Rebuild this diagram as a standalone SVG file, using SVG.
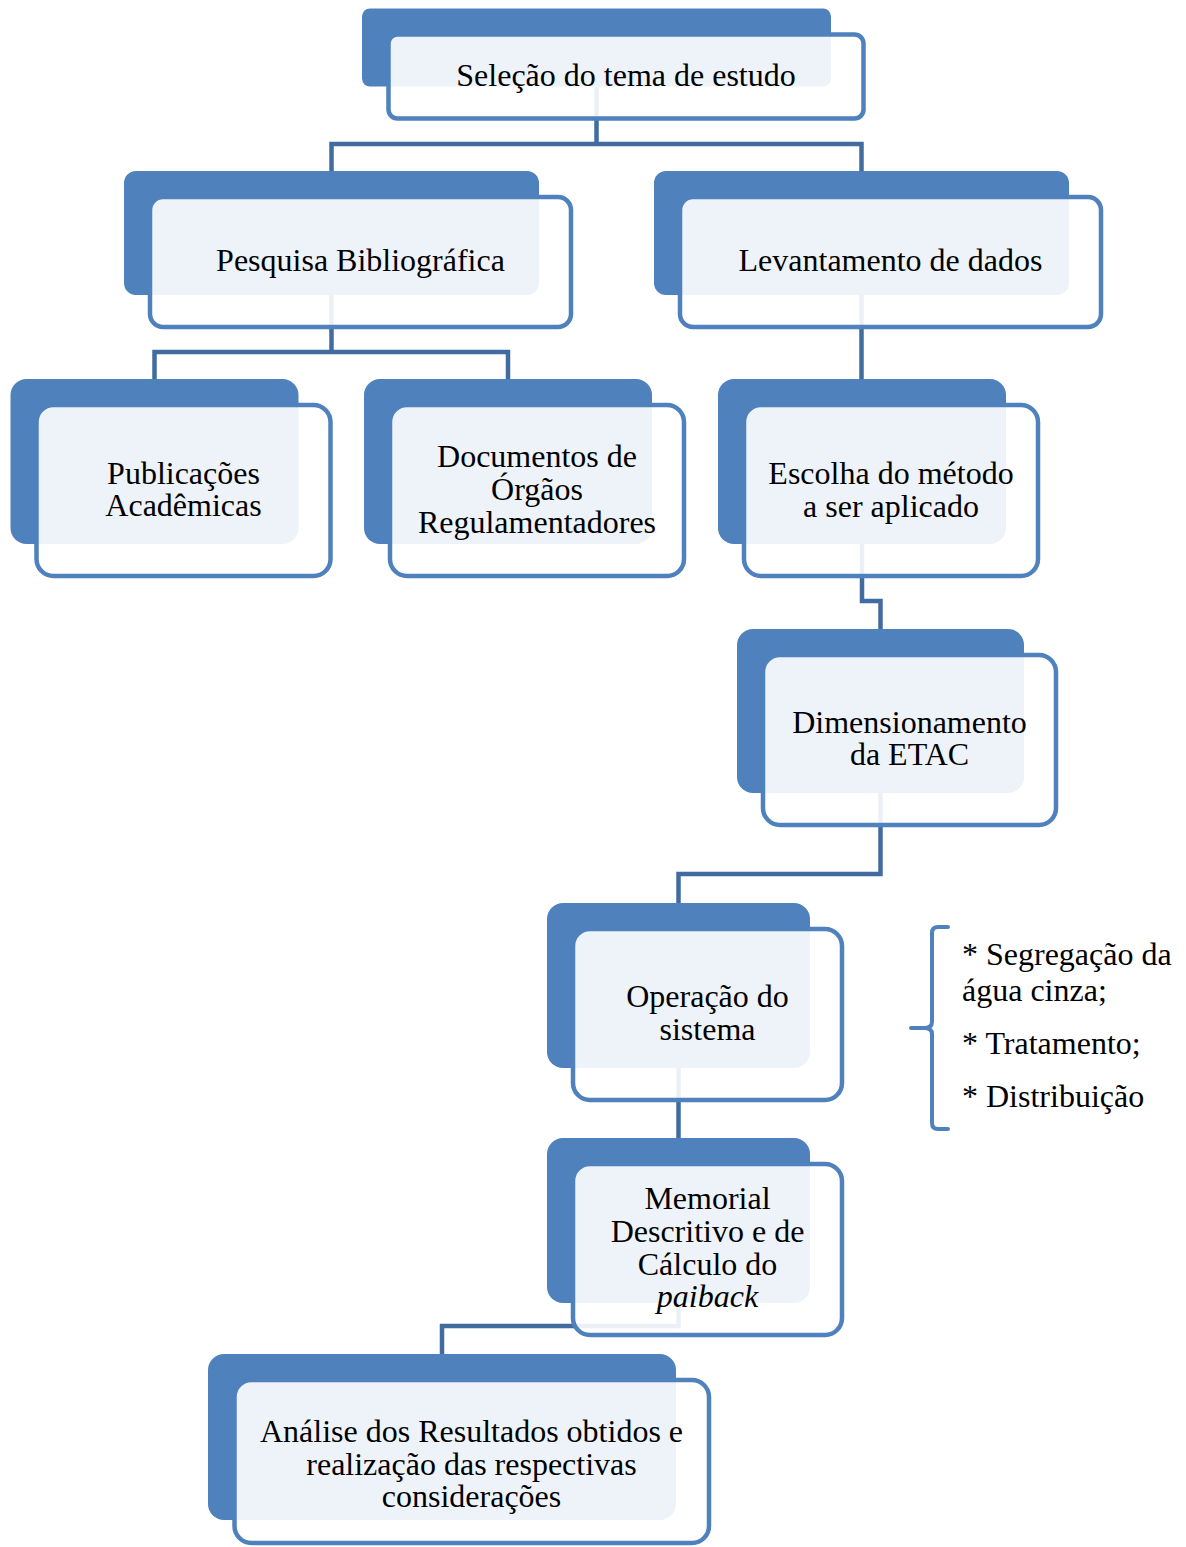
<svg xmlns="http://www.w3.org/2000/svg" width="1186" height="1547" viewBox="0 0 1186 1547">
<style>
.bk{fill:#4F81BD}
.fr{fill:#FFFFFF;fill-opacity:0.9;stroke:#4F81BD;stroke-width:4.5}
.cn{fill:none;stroke:#416C9F;stroke-width:4.5;stroke-linejoin:miter}
.t{font-family:"Liberation Serif","Times New Roman",serif;font-size:32px;fill:#000;text-anchor:middle}
.tl{font-family:"Liberation Serif","Times New Roman",serif;font-size:32px;fill:#000}
.br{fill:none;stroke:#4F81BD;stroke-width:4;stroke-linecap:round}
</style>
<rect width="1186" height="1547" fill="#FFFFFF"/>
<g id="connectors">
<path class="cn" d="M596.5,87 V144 M331.5,171 V144 H861.5 V171"/>
<path class="cn" d="M331.5,295 V352 M154.5,379 V352 H508 V379"/>
<path class="cn" d="M861.5,295 V379"/>
<path class="cn" d="M862,544 V601 H880.5 V629"/>
<path class="cn" d="M880.5,793 V874 H678.5 V903"/>
<path class="cn" d="M678.5,1068 V1138"/>
<path class="cn" d="M678.5,1303 V1326 H442 V1354"/>
</g>
<g id="n1">
<rect class="bk" x="362" y="8.5" width="469" height="78" rx="8"/>
<rect class="fr" x="388.5" y="34.5" width="475" height="84" rx="9"/>
<text class="t" x="626" y="86">Seleção do tema de estudo</text>
</g>
<g id="n2">
<rect class="bk" x="124" y="171" width="415" height="124" rx="12"/>
<rect class="fr" x="150" y="197" width="421" height="130" rx="13"/>
<text class="t" x="360.5" y="271">Pesquisa Bibliográfica</text>
</g>
<g id="n3">
<rect class="bk" x="654" y="171" width="415" height="124" rx="12"/>
<rect class="fr" x="680" y="197" width="421" height="130" rx="13"/>
<text class="t" x="890.5" y="271">Levantamento de dados</text>
</g>
<g id="n4">
<rect class="bk" x="10.5" y="379" width="288" height="165" rx="16"/>
<rect class="fr" x="36.5" y="405" width="294" height="171" rx="17"/>
<text class="t" x="183.5" y="484">Publicações</text>
<text class="t" x="183.5" y="516">Acadêmicas</text>
</g>
<g id="n5">
<rect class="bk" x="364" y="379" width="288" height="165" rx="16"/>
<rect class="fr" x="390" y="405" width="294" height="171" rx="17"/>
<text class="t" x="537" y="467">Documentos de</text>
<text class="t" x="537" y="500">Órgãos</text>
<text class="t" x="537" y="533">Regulamentadores</text>
</g>
<g id="n6">
<rect class="bk" x="718" y="379" width="288" height="165" rx="16"/>
<rect class="fr" x="744" y="405" width="294" height="171" rx="17"/>
<text class="t" x="891" y="484">Escolha do método</text>
<text class="t" x="891" y="517">a ser aplicado</text>
</g>
<g id="n7">
<rect class="bk" x="737" y="629" width="287" height="164" rx="16"/>
<rect class="fr" x="763" y="655" width="293" height="170" rx="17"/>
<text class="t" x="909.5" y="733">Dimensionamento</text>
<text class="t" x="909.5" y="765">da ETAC</text>
</g>
<g id="n8">
<rect class="bk" x="547" y="903" width="263" height="165" rx="16"/>
<rect class="fr" x="573" y="929" width="269" height="171" rx="17"/>
<text class="t" x="707.5" y="1007">Operação do</text>
<text class="t" x="707.5" y="1040">sistema</text>
</g>
<g id="n9">
<rect class="bk" x="547" y="1138" width="263" height="165" rx="16"/>
<rect class="fr" x="573" y="1164" width="269" height="171" rx="17"/>
<text class="t" x="707.5" y="1209">Memorial</text>
<text class="t" x="707.5" y="1242">Descritivo e de</text>
<text class="t" x="707.5" y="1275">Cálculo do</text>
<text class="t" x="707.5" y="1307" font-style="italic">paiback</text>
</g>
<g id="n10">
<rect class="bk" x="208" y="1354" width="468" height="166" rx="16"/>
<rect class="fr" x="234.5" y="1380" width="474.5" height="163" rx="17"/>
<text class="t" x="471.5" y="1442">Análise dos Resultados obtidos e</text>
<text class="t" x="471.5" y="1474.5">realização das respectivas</text>
<text class="t" x="471.5" y="1507">considerações</text>
</g>
<g id="brace">
<path class="br" d="M948,927 H938 Q932,927 932,933 V1022 Q932,1028 924,1028 H911 M924,1028 Q932,1028 932,1034 V1123 Q932,1129 938,1129 H948"/>
<text class="tl" x="962" y="965">* Segregação da</text>
<text class="tl" x="962" y="1001">água cinza;</text>
<text class="tl" x="962" y="1054">* Tratamento;</text>
<text class="tl" x="962" y="1107">* Distribuição</text>
</g>
</svg>
